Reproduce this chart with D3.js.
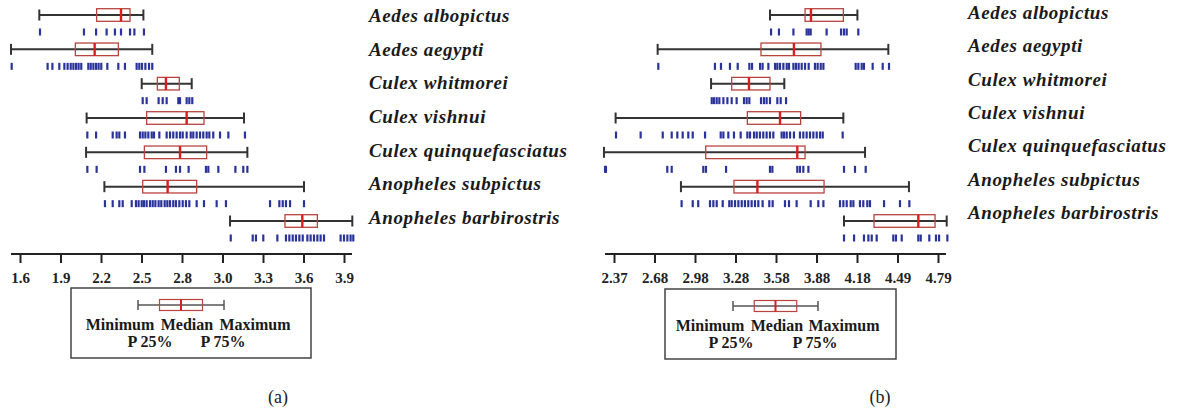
<!DOCTYPE html>
<html>
<head>
<meta charset="utf-8">
<script src="https://cdn.jsdelivr.net/npm/d3@7"></script>
<style>
  body { margin: 0; background: #fff; }
  svg { display: block; }
  .tick text { font-family: "Liberation Serif", serif; font-weight: bold; font-size: 15px; fill: #222; }
</style>
</head>
<body>
<div id="main"></div>
<script>
const species = [
  "Aedes albopictus", "Aedes aegypti", "Culex whitmorei", "Culex vishnui",
  "Culex quinquefasciatus", "Anopheles subpictus", "Anopheles barbirostris"
];

// panel (a): [min, P25, median, P75, max]
const statsA = [
  [1.737, 2.144, 2.317, 2.381, 2.476],
  [1.536, 1.993, 2.130, 2.298, 2.539],
  [2.464, 2.575, 2.636, 2.731, 2.819],
  [2.073, 2.499, 2.783, 2.906, 3.190],
  [2.069, 2.483, 2.736, 2.925, 3.214],
  [2.199, 2.471, 2.648, 2.854, 3.616],
  [3.091, 3.481, 3.604, 3.711, 3.959]
];
const pointsA = [
  [1.742, 2.054, 2.140, 2.215, 2.274, 2.317, 2.381, 2.412, 2.480],
  [1.541, 1.796, 1.830, 1.879, 1.915, 1.938, 1.960, 1.979, 1.998, 2.016, 2.035, 2.085, 2.102,
   2.121, 2.140, 2.158, 2.177, 2.220, 2.298, 2.345, 2.428, 2.447, 2.466, 2.490, 2.516, 2.539],
  [2.471, 2.499, 2.584, 2.613, 2.641, 2.724, 2.736, 2.783, 2.802, 2.823],
  [2.078, 2.140, 2.258, 2.286, 2.305, 2.345, 2.452, 2.471, 2.490, 2.511, 2.535, 2.551, 2.589,
   2.641, 2.665, 2.688, 2.712, 2.736, 2.755, 2.783, 2.812, 2.830, 2.854, 2.878, 2.901, 2.925,
   2.944, 2.972, 3.020, 3.079, 3.197],
  [2.078, 2.144, 2.452, 2.483, 2.636, 2.707, 2.736, 2.797, 2.920, 2.937, 3.008, 3.129, 3.185, 3.214],
  [2.203, 2.258, 2.305, 2.329, 2.393, 2.423, 2.442, 2.464, 2.480, 2.499, 2.523, 2.542, 2.561,
   2.584, 2.603, 2.627, 2.646, 2.665, 2.688, 2.707, 2.731, 2.755, 2.778, 2.802, 2.854, 2.906,
   2.996, 3.062, 3.375, 3.441, 3.465, 3.488, 3.517, 3.616],
  [3.096, 3.252, 3.275, 3.327, 3.427, 3.488, 3.512, 3.536, 3.559, 3.583, 3.607, 3.640, 3.663,
   3.687, 3.711, 3.734, 3.758, 3.876, 3.900, 3.924, 3.947, 3.966]
];

// panel (b)
const statsB = [
  [3.535, 3.797, 3.841, 4.083, 4.188],
  [2.696, 3.468, 3.714, 3.916, 4.419],
  [3.095, 3.249, 3.378, 3.535, 3.642],
  [2.382, 3.366, 3.610, 3.764, 4.083],
  [2.295, 3.055, 3.739, 3.797, 4.245],
  [2.870, 3.266, 3.441, 3.939, 4.573],
  [4.088, 4.312, 4.643, 4.768, 4.855]
];
const pointsB = [
  [3.543, 3.602, 3.710, 3.809, 3.824, 3.839, 3.958, 4.066, 4.088, 4.108, 4.195],
  [2.701, 3.124, 3.169, 3.236, 3.294, 3.381, 3.401, 3.461, 3.480, 3.523, 3.573, 3.590, 3.610,
   3.635, 3.660, 3.677, 3.710, 3.729, 3.749, 3.772, 3.797, 3.824, 3.871, 3.891, 3.914, 3.934,
   4.175, 4.195, 4.220, 4.237, 4.302, 4.377, 4.424],
  [3.100, 3.117, 3.137, 3.157, 3.187, 3.217, 3.249, 3.286, 3.341, 3.361, 3.381, 3.468, 3.490,
   3.510, 3.535, 3.590, 3.615, 3.655],
  [2.385, 2.569, 2.734, 2.801, 2.843, 2.883, 2.925, 2.958, 3.050, 3.167, 3.187, 3.224, 3.266,
   3.316, 3.366, 3.386, 3.416, 3.436, 3.460, 3.485, 3.510, 3.535, 3.560, 3.622, 3.640, 3.660,
   3.685, 3.714, 3.759, 3.784, 3.809, 3.834, 3.859, 3.884, 3.909, 3.929, 4.078],
  [2.303, 2.310, 2.768, 2.801, 3.037, 3.057, 3.207, 3.535, 3.553, 3.739, 3.759, 3.784, 3.822,
   4.088, 4.170, 4.250],
  [2.875, 2.958, 2.999, 3.087, 3.112, 3.137, 3.182, 3.231, 3.249, 3.274, 3.299, 3.324, 3.348,
   3.373, 3.398, 3.423, 3.448, 3.480, 3.530, 3.555, 3.647, 3.677, 3.734, 3.839, 3.896, 3.934,
   4.058, 4.083, 4.108, 4.138, 4.158, 4.207, 4.232, 4.262, 4.282, 4.387, 4.506, 4.576],
  [4.088, 4.163, 4.237, 4.270, 4.295, 4.332, 4.456, 4.476, 4.519, 4.643, 4.661, 4.725, 4.775,
   4.798, 4.860]
];

const ticksA = [1.6, 1.8875, 2.175, 2.4625, 2.75, 3.0375, 3.325, 3.6125, 3.9];
const tickLabelsA = ["1.6", "1.9", "2.2", "2.5", "2.8", "3.0", "3.3", "3.6", "3.9"];
const ticksB = [2.37, 2.6725, 2.975, 3.2775, 3.58, 3.8825, 4.185, 4.4875, 4.79];
const tickLabelsB = ["2.37", "2.68", "2.98", "3.28", "3.58", "3.88", "4.18", "4.49", "4.79"];

// legend key glyph: min, P25, median, P75, max
const legendKey = [0, 0.25, 0.5, 0.75, 1];

const width = 1178, height = 411;
const serif = "'Liberation Serif', 'Times New Roman', serif";

const svg = d3.select("#main").append("svg")
  .attr("width", width)
  .attr("height", height);

const rowY = d3.scalePoint().domain(species).range([15, 221]);

function drawPanel(p) {
  const x = d3.scaleLinear().domain([p.ticks[0], p.ticks[p.ticks.length - 1]]).range(p.range);
  const g = svg.append("g");

  species.forEach((sp, i) => {
    const s = p.stats[i];
    const y = rowY(sp);
    const row = g.append("g");

    // whisker line, through the box
    row.append("line")
      .attr("x1", x(s[0])).attr("x2", x(s[4]))
      .attr("y1", y).attr("y2", y)
      .attr("stroke", "#333").attr("stroke-width", 2);
    [s[0], s[4]].forEach(v => {
      row.append("line")
        .attr("x1", x(v)).attr("x2", x(v))
        .attr("y1", y - 5.5).attr("y2", y + 5.5)
        .attr("stroke", "#333").attr("stroke-width", 2);
    });
    row.append("rect")
      .attr("x", x(s[1])).attr("y", y - 6.3)
      .attr("width", x(s[3]) - x(s[1])).attr("height", 12.6)
      .attr("fill", "none").attr("stroke", "#b9443f").attr("stroke-width", 1.3);
    row.append("line")
      .attr("x1", x(s[2])).attr("x2", x(s[2]))
      .attr("y1", y - 6.3).attr("y2", y + 6.3)
      .attr("stroke", "#d81e1e").attr("stroke-width", 2.4);

    // raw observations strip
    row.selectAll(".obs")
      .data(p.points[i])
      .join("line")
      .attr("class", "obs")
      .attr("x1", d => x(d)).attr("x2", d => x(d))
      .attr("y1", y + 13.5).attr("y2", y + 20.5)
      .attr("stroke", "#2a3399").attr("stroke-width", 2.2);
  });

  // species names
  const labelY = d3.scalePoint().domain(species).range(p.labelRange);
  g.selectAll(".sp")
    .data(species)
    .join("text")
    .attr("class", "sp")
    .attr("x", p.labelX)
    .attr("y", d => labelY(d))
    .attr("font-family", serif)
    .attr("font-weight", "bold")
    .attr("font-style", "italic")
    .attr("font-size", 19)
    .attr("letter-spacing", 0.6)
    .attr("fill", "#1a1a1a")
    .text(d => d);

  // axis
  const axisY = 254;
  g.append("line")
    .attr("x1", p.range[0] - 9).attr("x2", p.range[1] + 8)
    .attr("y1", axisY).attr("y2", axisY)
    .attr("stroke", "#222").attr("stroke-width", 2);
  const ax = g.append("g")
    .attr("transform", `translate(0,${axisY})`)
    .call(d3.axisBottom(x)
      .tickValues(p.ticks)
      .tickFormat((d, i) => p.tickLabels[i])
      .tickSize(9)
      .tickSizeOuter(0)
      .tickPadding(9));
  ax.select(".domain").remove();
  ax.selectAll(".tick line").attr("stroke", "#222").attr("stroke-width", 2);

  // legend
  const L = p.legend;
  g.append("rect")
    .attr("x", L.box[0]).attr("y", L.box[1])
    .attr("width", L.box[2]).attr("height", L.box[3])
    .attr("fill", "#fff").attr("stroke", "#444").attr("stroke-width", 1.5);
  const lx = d3.scaleLinear().domain([0, 1]).range(L.glyph);
  const ly = L.glyphY;
  g.append("line")
    .attr("x1", lx(legendKey[0])).attr("x2", lx(legendKey[4]))
    .attr("y1", ly).attr("y2", ly)
    .attr("stroke", "#555").attr("stroke-width", 1.5);
  [legendKey[0], legendKey[4]].forEach(v => {
    g.append("line")
      .attr("x1", lx(v)).attr("x2", lx(v))
      .attr("y1", ly - 5).attr("y2", ly + 5)
      .attr("stroke", "#555").attr("stroke-width", 1.5);
  });
  g.append("rect")
    .attr("x", lx(legendKey[1])).attr("y", ly - 5.5)
    .attr("width", lx(legendKey[3]) - lx(legendKey[1])).attr("height", 11)
    .attr("fill", "none").attr("stroke", "#b9443f").attr("stroke-width", 1.2);
  g.append("line")
    .attr("x1", lx(legendKey[2])).attr("x2", lx(legendKey[2]))
    .attr("y1", ly - 5.5).attr("y2", ly + 5.5)
    .attr("stroke", "#d81e1e").attr("stroke-width", 2);

  const legTexts = [
    ["Minimum", L.minX, L.row1], ["Median", L.medX, L.row1], ["Maximum", L.maxX, L.row1],
    ["P 25%", L.p25X, L.row2], ["P 75%", L.p75X, L.row2]
  ];
  g.selectAll(".lt")
    .data(legTexts)
    .join("text")
    .attr("class", "lt")
    .attr("x", d => d[1]).attr("y", d => d[2])
    .attr("text-anchor", "middle")
    .attr("font-family", serif)
    .attr("font-weight", "bold")
    .attr("font-size", 16)
    .attr("fill", "#1a1a1a")
    .text(d => d[0]);

  // caption
  g.append("text")
    .attr("x", p.captionX).attr("y", 403)
    .attr("text-anchor", "middle")
    .attr("font-family", serif)
    .attr("font-size", 18)
    .attr("fill", "#222")
    .text(p.caption);
}

drawPanel({
  range: [20, 344],
  ticks: ticksA, tickLabels: tickLabelsA,
  stats: statsA, points: pointsA,
  labelX: 369, labelRange: [22, 224],
  legend: {
    box: [71, 288, 240, 70], glyph: [138, 224], glyphY: 305,
    minX: 120, medX: 187, maxX: 255, p25X: 150, p75X: 223, row1: 330, row2: 347
  },
  caption: "(a)", captionX: 278
});

drawPanel({
  range: [614, 938],
  ticks: ticksB, tickLabels: tickLabelsB,
  stats: statsB, points: pointsB,
  labelX: 968, labelRange: [19, 219],
  legend: {
    box: [665, 289, 231, 70], glyph: [733, 818], glyphY: 306,
    minX: 710, medX: 777, maxX: 844, p25X: 731, p75X: 815, row1: 331, row2: 348
  },
  caption: "(b)", captionX: 880
});
</script>
</body>
</html>
